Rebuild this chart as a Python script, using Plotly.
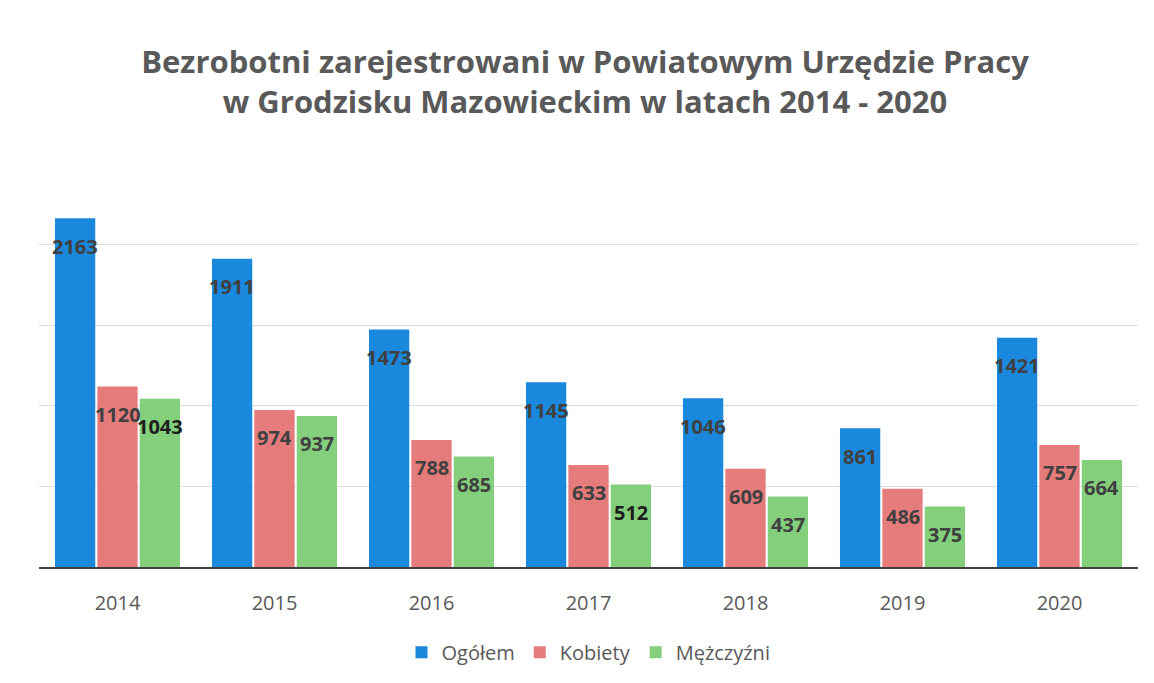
import plotly.graph_objects as go

years = [2014, 2015, 2016, 2017, 2018, 2019, 2020]
ogolem = [2163, 1911, 1473, 1145, 1046, 861, 1421]
kobiety = [1120, 974, 788, 633, 609, 486, 757]
mezczyzni = [1043, 937, 685, 512, 437, 375, 664]

series_names = ["Ogółem", "Kobiety", "Mężczyźni"]
series_values = [ogolem, kobiety, mezczyzni]
series_colors = ["#1a88dc", "#e57b7b", "#83cf7c"]

W, H = 1154, 683
ML, MR, MT, MB = 31, 24, 172, 124
BARGAP = 0.19

fig = go.Figure()
for name, vals, col in zip(series_names, series_values, series_colors):
    fig.add_trace(go.Bar(name=name, x=years, y=vals, marker_color=col,
                         marker_line_width=0))

# value labels inside the bars, near the top
plot_w = W - ML - MR
bar_px = plot_w / len(years) * (1 - BARGAP) / 3
for i, vals in enumerate(series_values):
    for yr, v in zip(years, vals):
        dark = (i == 2 and v in (1043, 512))
        fig.add_annotation(x=yr, y=v, xref="x", yref="y", text="<b>%d</b>" % v,
                           showarrow=False, xshift=(i - 1) * bar_px, yshift=-28,
                           font=dict(family="Open Sans", size=20,
                                     color="#1e1e1e" if dark else "#404040"))

fig.update_layout(
    width=W, height=H,
    margin=dict(l=ML, r=MR, t=MT, b=MB, autoexpand=False),
    paper_bgcolor="white", plot_bgcolor="white",
    barmode="group", bargap=BARGAP, bargroupgap=0.05,
    title=dict(text="<b>Bezrobotni zarejestrowani w Powiatowym Urzędzie Pracy<br>w Grodzisku Mazowieckim w latach 2014 - 2020</b>",
               x=0.5, xanchor="center", y=0.905, yanchor="top",
               font=dict(family="Open Sans", size=31, color="#595959")),
    xaxis=dict(range=[years[0] - 0.5, years[-1] + 0.5], tickmode="linear", dtick=1,
               showline=True, linecolor="#404040", linewidth=2, showgrid=False,
               ticks="outside", ticklen=17, tickcolor="rgba(0,0,0,0)",
               tickfont=dict(family="Open Sans", size=20, color="#595959")),
    yaxis=dict(range=[0, 2400], dtick=500, showticklabels=False, showgrid=True,
               gridcolor="#dcdcdc", gridwidth=1, zeroline=False),
    legend=dict(orientation="h", x=0.5, xanchor="center", y=-0.22, yanchor="middle",
                font=dict(family="Open Sans", size=20, color="#595959"),
                traceorder="normal"),
    showlegend=True,
)

fig.write_html("out.html")
